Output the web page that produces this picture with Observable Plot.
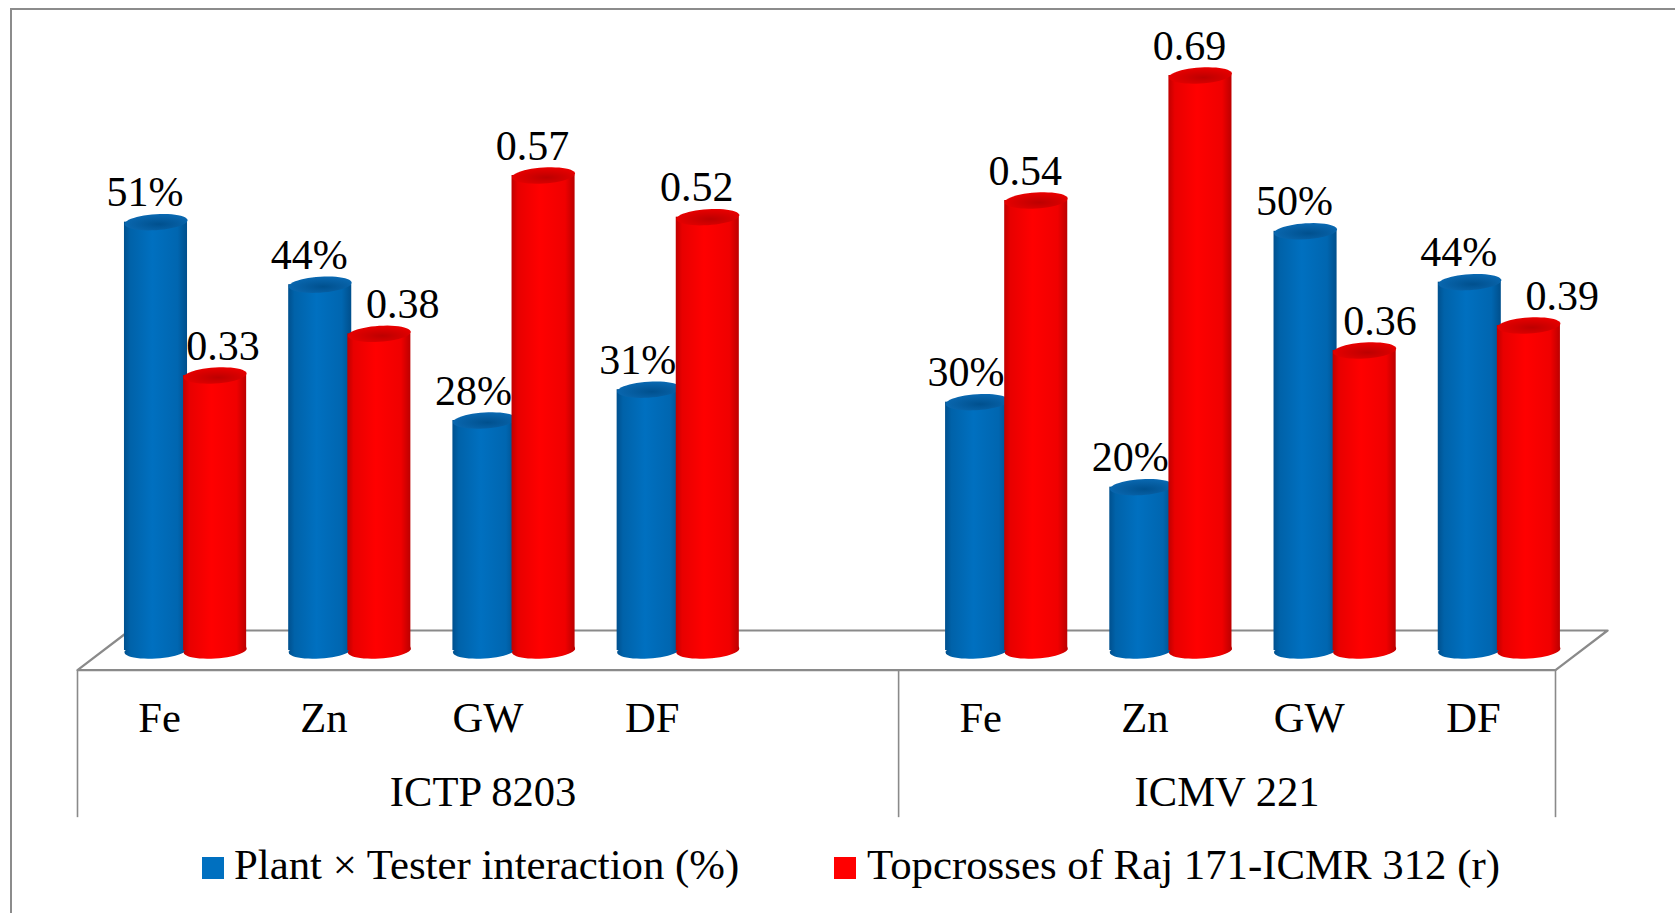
<!DOCTYPE html>
<html>
<head>
<meta charset="utf-8">
<script src="https://cdn.jsdelivr.net/npm/d3@7"></script>
<script src="https://cdn.jsdelivr.net/npm/@observablehq/plot@0.6"></script>
<style>
  html, body { margin: 0; padding: 0; background: #fff; width: 1675px; height: 913px; overflow: hidden; font-family: "Liberation Serif", serif; }
  #chart { position: absolute; left: 0; top: 0; }
  #border { position: absolute; left: 10px; top: 8px; right: 0; bottom: 0; border-top: 2px solid #8c8c8c; border-left: 2px solid #8c8c8c; pointer-events: none; }
  .lg { position: absolute; top: 844px; font-size: 42.8px; line-height: 1; color: #000; white-space: nowrap; }
  .sw { position: absolute; top: 857px; width: 22px; height: 22px; }
</style>
</head>
<body>
<div id="chart"></div>
<div id="border"></div>
<div class="sw" style="left:202px;background:#0070c0"></div>
<div class="lg" style="left:234px" id="lg1"></div>
<div class="sw" style="left:834px;background:#ff0000"></div>
<div class="lg" style="left:867px" id="lg2"></div>
<script>
// ---- data
const groups = ["ICTP 8203", "ICMV 221"];
const traits = ["Fe", "Zn", "GW", "DF"];
const plantTester = [51.4, 43.9, 27.6, 31.3, 29.8, 19.6, 50.3, 44.2];   // %
const topcrosses  = [0.33, 0.38, 0.57, 0.52, 0.54, 0.69, 0.36, 0.39];   // r
const seriesNames = ["Plant × Tester interaction (%)", "Topcrosses of Raj 171-ICMR 312 (r)"];

// ---- layout, in category slots (the first group owns one spare slot)
const groupSlots = [0, 5];
const slotCount = 9;
const depth = 0.158;      // columns stand behind the front edge of the floor
const pairGap = 0.18;     // half distance between the two columns of a pair
const columnW = 0.384;
const floorBack = 0.317;
const floorFrontY = -0.0235, floorBackY = 0.024, dividerBottomY = -0.2;
const labelShift = -0.067;
const redLabelNudge = {0: 0.115, 1: 0.21, 6: 0.16, 7: 0.27};  // hand-moved labels

const rows = [];
groups.forEach((g, gi) => traits.forEach((t, ti) => {
  const i = gi * 4 + ti, slot = groupSlots[gi] + ti;
  rows.push({g, t, i, slot, series: 0, value: plantTester[i] / 100, label: Math.round(plantTester[i]) + "%"});
  rows.push({g, t, i, slot, series: 1, value: topcrosses[i], label: topcrosses[i].toFixed(2)});
}));
const center = d => d.slot + 0.5 + depth + (d.series ? pairGap : -pairGap);
const blue = rows.filter(d => d.series === 0);
const red = rows.filter(d => d.series === 1);
const cats = rows.filter(d => d.series === 0);

// a slightly tilted ellipse, used as a dot symbol for the column ends
const ellipse = {
  draw(ctx) {
    const rx = 31.5, ry = 8, a = -3.5 * Math.PI / 180, n = 48;
    for (let k = 0; k < n; k++) {
      const t = 2 * Math.PI * k / n, X = rx * Math.cos(t), Y = ry * Math.sin(t);
      const px = X * Math.cos(a) - Y * Math.sin(a) * 0.2, py = X * Math.sin(a) + Y * Math.cos(a);
      k ? ctx.lineTo(px, py) : ctx.moveTo(px, py);
    }
    ctx.closePath();
  }
};

const defs = () => {
  const g = d3.create("svg:defs");
  g.html(`
    <linearGradient id="bodyB" x1="0" x2="1" y1="0" y2="0">
      <stop offset="0" stop-color="#00508e"/><stop offset="0.1" stop-color="#0062a9"/>
      <stop offset="0.45" stop-color="#0070c0"/><stop offset="0.85" stop-color="#0066b0"/>
      <stop offset="1" stop-color="#004f8c"/>
    </linearGradient>
    <linearGradient id="bodyR" x1="0" x2="1" y1="0" y2="0">
      <stop offset="0" stop-color="#c00000"/><stop offset="0.1" stop-color="#e80000"/>
      <stop offset="0.45" stop-color="#ff0000"/><stop offset="0.85" stop-color="#f00000"/>
      <stop offset="1" stop-color="#bc0000"/>
    </linearGradient>
    <radialGradient id="capB" cx="0.55" cy="0.62" r="0.62">
      <stop offset="0" stop-color="#00508e"/><stop offset="1" stop-color="#0a69b2"/>
    </radialGradient>
    <radialGradient id="capR" cx="0.55" cy="0.62" r="0.62">
      <stop offset="0" stop-color="#bd0000"/><stop offset="1" stop-color="#ea0000"/>
    </radialGradient>`);
  return g.node();
};

const column = (data, body, cap) => [
  Plot.dot(data, {x: center, y: () => 0, r: 10, symbol: ellipse, fill: `url(#${body})`, stroke: "none"}),
  Plot.rect(data, {x1: d => center(d) - columnW / 2, x2: d => center(d) + columnW / 2, y1: () => 0, y2: d => d.value, fill: `url(#${body})`}),
  Plot.dot(data, {x: center, y: d => d.value, r: 10, symbol: ellipse, fill: `url(#${cap})`, stroke: "none"})
];

const floor = [
  {x: 0, y: floorFrontY}, {x: slotCount, y: floorFrontY},
  {x: slotCount + floorBack, y: floorBackY}, {x: floorBack, y: floorBackY}, {x: 0, y: floorFrontY}
];
const dividers = [0, 5, 9];

const chart = Plot.plot({
  width: 1675, height: 830,
  marginTop: 0, marginBottom: 0, marginLeft: 77, marginRight: 120,
  style: {background: "none", fontFamily: "'Liberation Serif', serif"},
  x: {type: "linear", domain: [0, slotCount], axis: null},
  y: {type: "linear", domain: [-0.216, 0.78], range: [830, 0], axis: null},
  marks: [
    defs,
    Plot.line(floor, {x: "x", y: "y", stroke: "#8a8a8a", strokeWidth: 2.2}),
    Plot.link(dividers, {x1: d => d, x2: d => d, y1: () => floorFrontY, y2: () => dividerBottomY, stroke: "#8a8a8a", strokeWidth: 1.6}),
    ...column(blue, "bodyB", "capB"),
    ...column(red, "bodyR", "capR"),
    Plot.text(rows, {
      x: d => center(d) + labelShift + (d.series ? (redLabelNudge[d.i] || 0) : 0),
      y: "value", text: "label", fontSize: 42, fill: "#000", lineAnchor: "bottom", dy: -16
    }),
    Plot.text(cats, {x: d => d.slot + 0.5, y: () => 0, text: "t", fontSize: 42.6, fill: "#000", lineAnchor: "bottom", dy: 81}),
    Plot.text(groups, {x: (d, i) => [2.47, 7][i], y: () => 0, text: d => d, fontSize: 42.6, fill: "#000", lineAnchor: "bottom", dy: 155})
  ]
});
document.getElementById("chart").append(chart);
document.getElementById("lg1").textContent = seriesNames[0];
document.getElementById("lg2").textContent = seriesNames[1];
</script>
</body>
</html>
